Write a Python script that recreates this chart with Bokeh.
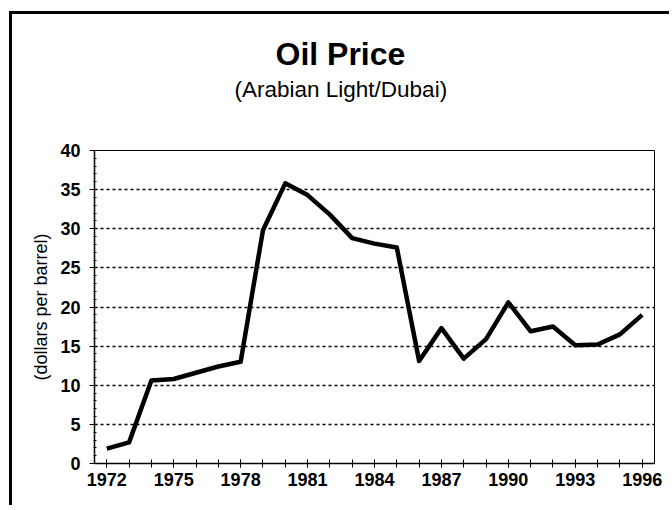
from bokeh.plotting import figure
from bokeh.models import Title, FixedTicker, Range1d
from bokeh.embed import file_html
from bokeh.resources import INLINE

years = list(range(1972, 1997))
price = [1.9, 2.7, 10.6, 10.8, 11.6, 12.4, 13.0, 29.8, 35.8, 34.3, 31.8, 28.8,
         28.1, 27.6, 13.1, 17.3, 13.4, 15.9, 20.6, 16.9, 17.5, 15.1, 15.2, 16.5, 19.0]
x_labeled_ticks = [1972, 1975, 1978, 1981, 1984, 1987, 1990, 1993, 1996]
y_ticks = [0, 5, 10, 15, 20, 25, 30, 35, 40]
title_text = "Oil Price"
subtitle_text = "(Arabian Light/Dubai)"
y_label_text = "(dollars per barrel)"

FONT = "Liberation Sans"

p = figure(width=660, height=494, output_backend="svg", toolbar_location=None,
           x_range=Range1d(1971.45, 1996.55), y_range=Range1d(0, 40),
           min_border_left=82, min_border_top=136, min_border_right=18,
           min_border_bottom=45)
p.margin = (11, 0, 0, 9)
p.styles = {"border-left": "3px solid #000", "border-top": "3px solid #000"}

p.line(years, price, line_width=4.5, line_color="black", line_join="round")

# axes
p.xaxis.ticker = FixedTicker(ticks=x_labeled_ticks, minor_ticks=years)
p.yaxis.ticker = FixedTicker(ticks=y_ticks, minor_ticks=list(range(0, 41)))
for ax in (p.xaxis[0], p.yaxis[0]):
    ax.axis_line_color = "black"
    ax.axis_line_width = 1.5
    ax.major_tick_line_color = "black"
    ax.minor_tick_line_color = "black"
    ax.major_label_text_font = FONT
    ax.major_label_text_font_style = "bold"
    ax.major_label_text_font_size = "18px"
    ax.major_label_text_color = "black"
ax = p.xaxis[0]
ax.major_tick_in = 4
ax.major_tick_out = 4
ax.minor_tick_in = 4
ax.minor_tick_out = 4
ax.major_label_standoff = 5
ay = p.yaxis[0]
ay.major_tick_in = 3
ay.major_tick_out = 5
ay.minor_tick_in = 2
ay.minor_tick_out = 1
ay.major_label_standoff = 9
ay.axis_label = y_label_text
ay.axis_label_text_font = FONT
ay.axis_label_text_font_style = "normal"
ay.axis_label_text_font_size = "18px"
ay.axis_label_text_color = "black"
ay.axis_label_standoff = 6

p.xgrid.grid_line_color = None
p.ygrid.grid_line_color = "black"
p.ygrid.grid_line_dash = "3 3"
p.ygrid.grid_line_width = 1.3

p.outline_line_color = "black"
p.outline_line_width = 1
p.background_fill_color = "white"
p.border_fill_color = "white"

# titles: added first = closest to the frame; offset measured from frame left
# an invisible spacer keeps the gap between the subtitle and the plot area
p.add_layout(Title(text=" ", standoff=43, text_font=FONT,
                   text_font_size="1px", text_color="white"), "above")
p.add_layout(Title(text=subtitle_text, align="left", offset=140, standoff=6,
                   text_font=FONT, text_font_style="normal",
                   text_font_size="22.5px", text_color="black"), "above")
p.add_layout(Title(text=title_text, align="left", offset=181, standoff=0,
                   text_font=FONT, text_font_style="bold",
                   text_font_size="32px", text_color="black"), "above")

open("out.html", "w").write(file_html(p, INLINE))
